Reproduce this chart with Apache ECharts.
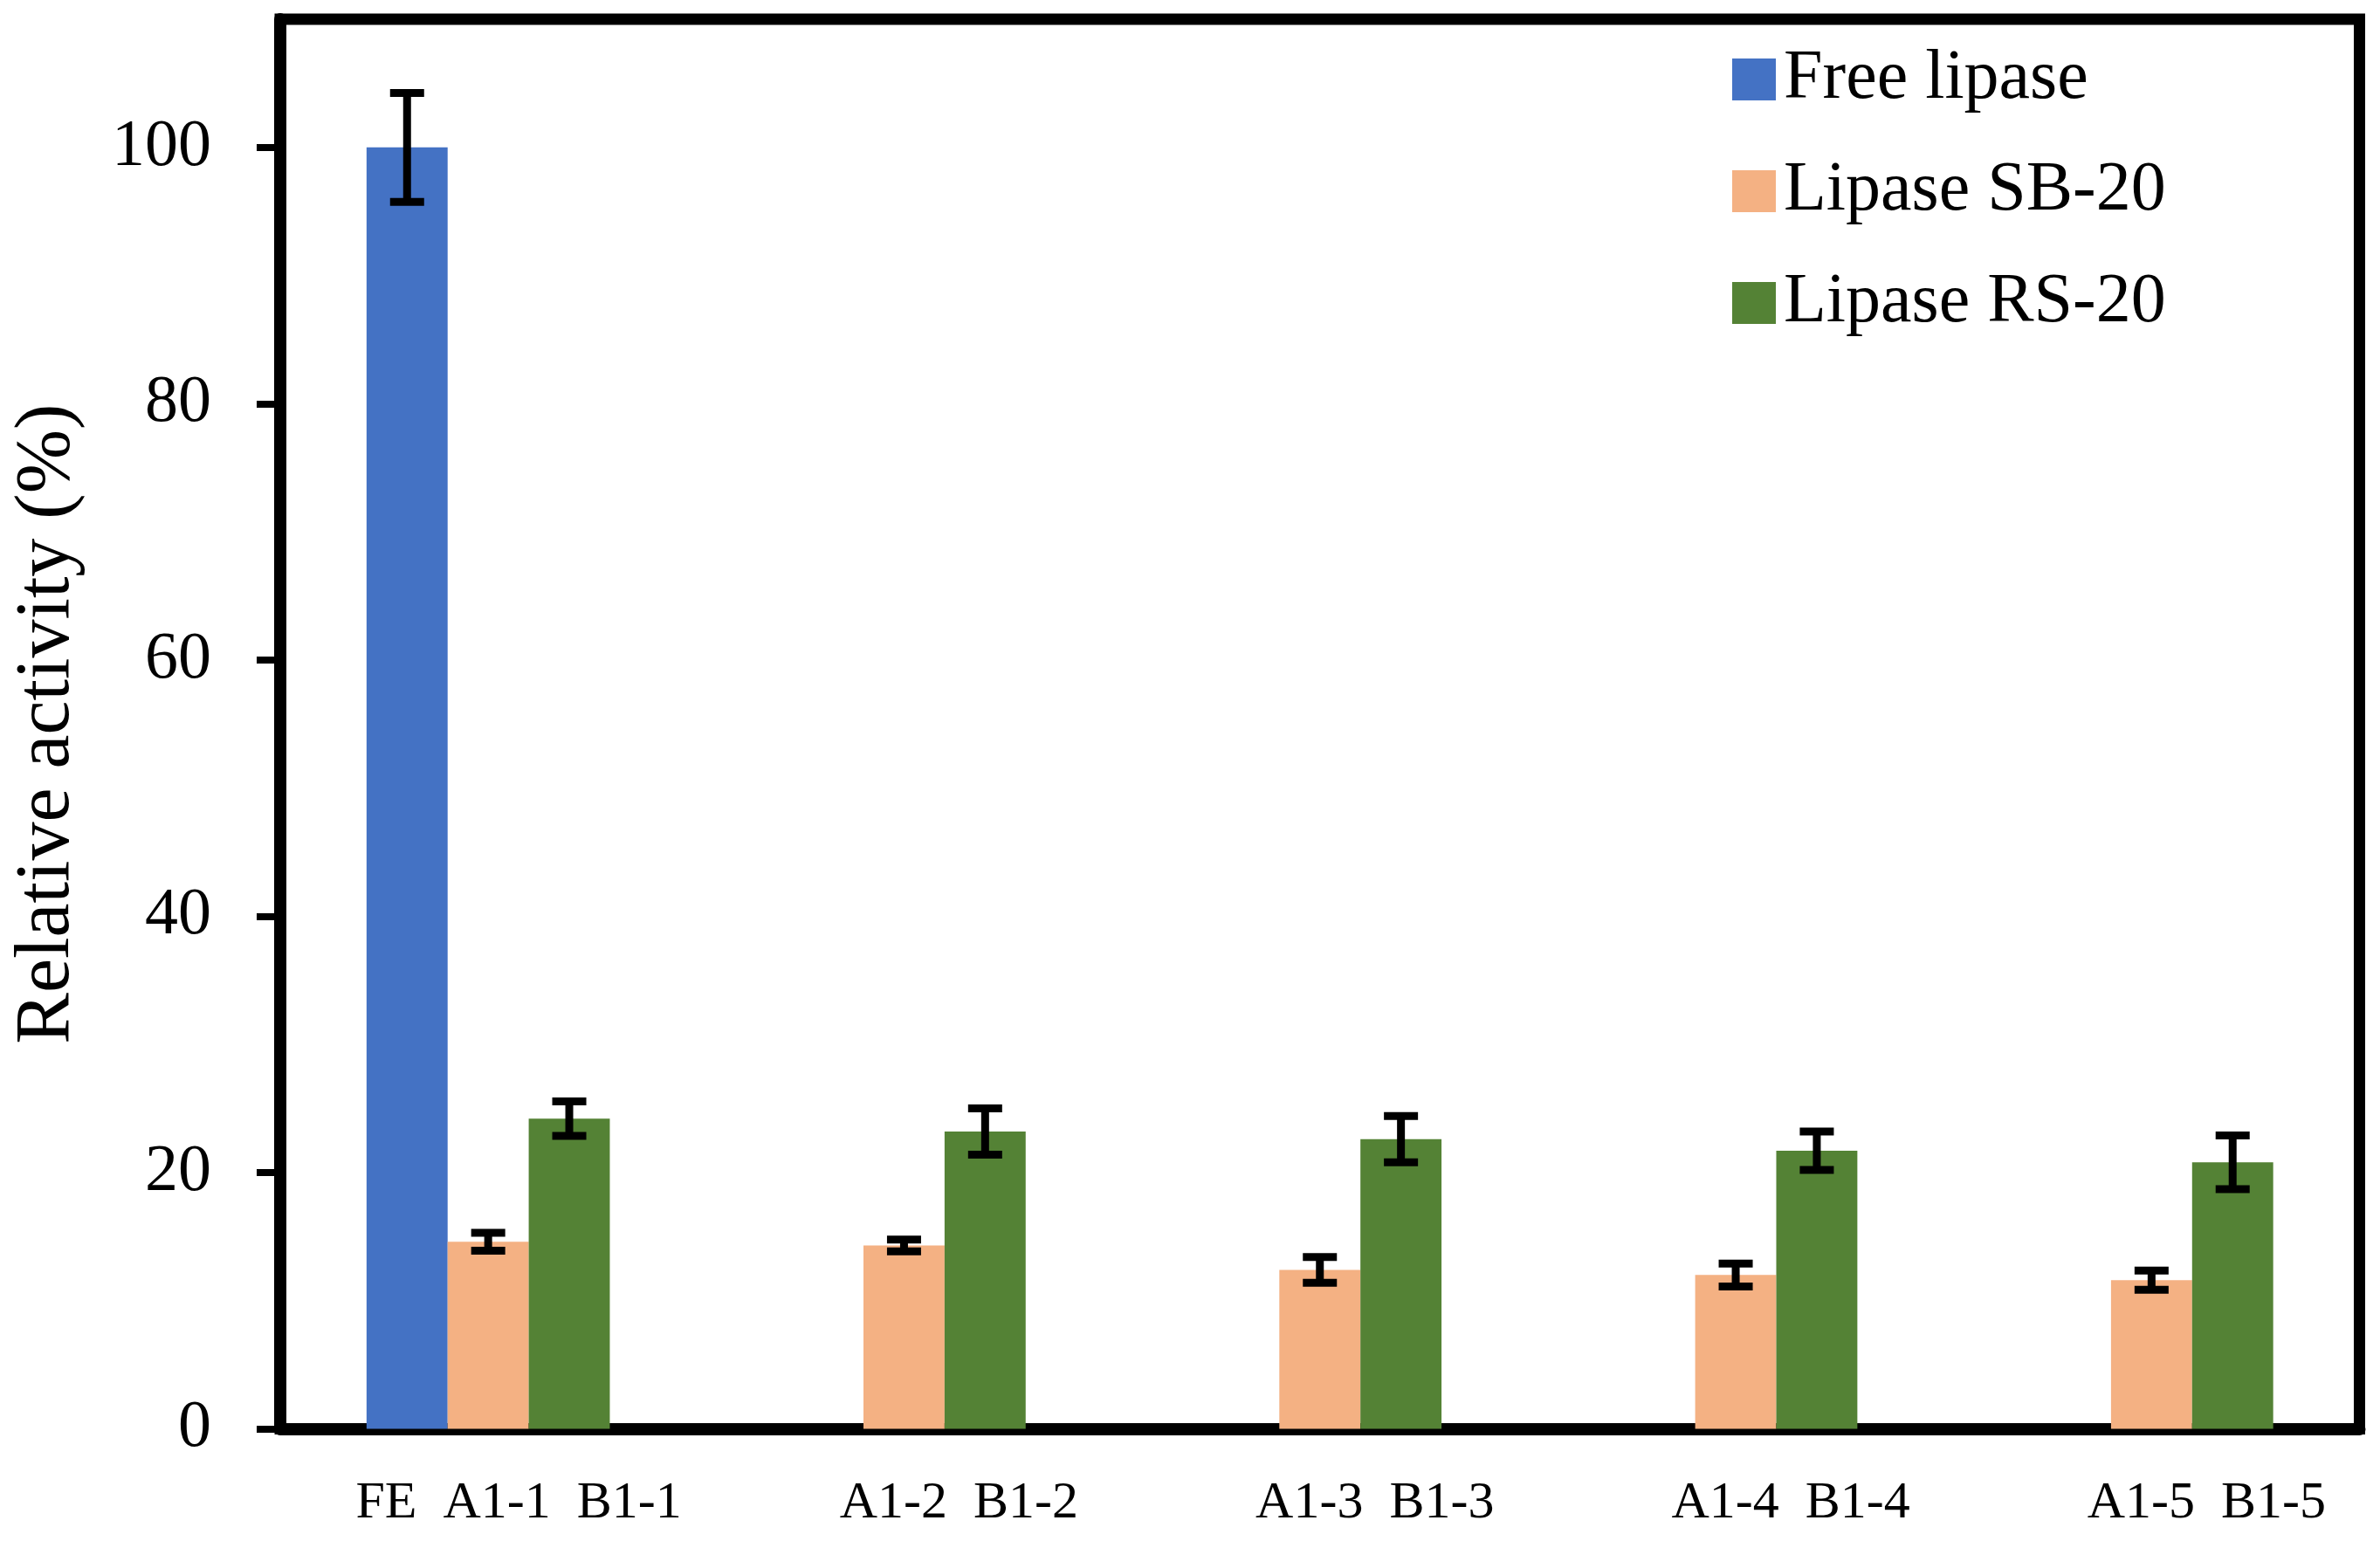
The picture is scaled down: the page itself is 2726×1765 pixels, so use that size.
<!DOCTYPE html>
<html>
<head>
<meta charset="utf-8">
<script src="https://cdn.jsdelivr.net/npm/echarts@6/dist/echarts.min.js"></script>
<style>
html,body{margin:0;padding:0;background:#fff;}
#chart{width:2726px;height:1765px;}
</style>
</head>
<body>
<div id="chart"></div>
<script>
var categories = ['FE  A1-1  B1-1', 'A1-2  B1-2', 'A1-3  B1-3', 'A1-4  B1-4', 'A1-5  B1-5'];
var seriesNames = ['Free lipase', 'Lipase SB-20', 'Lipase RS-20'];
var freeVals = [100, null, null, null, null];
var freeErr  = [4.25, null, null, null, null];
var sbVals = [14.6, 14.3, 12.4, 12.0, 11.6];
var sbErr  = [0.7, 0.46, 1.0, 0.9, 0.75];
var rsVals = [24.2, 23.2, 22.6, 21.7, 20.8];
var rsErr  = [1.35, 1.8, 1.8, 1.5, 2.1];
var yTicks = [0, 20, 40, 60, 80, 100];

var colors = ['#4472C4', '#F4B183', '#548235'];
var BAR_FRAC = 0.195;
var FONT = '"Liberation Serif", "Times New Roman", serif';

function errData(vals, errs) {
  var out = [];
  for (var i = 0; i < vals.length; i++) {
    if (vals[i] == null) continue;
    out.push([i, vals[i] - errs[i], vals[i] + errs[i]]);
  }
  return out;
}

function errSeries(vals, errs, offset) {
  return {
    type: 'custom',
    z: 10,
    silent: true,
    encode: {x: 0, y: [1, 2]},
    data: errData(vals, errs),
    renderItem: function (params, api) {
      var ci = api.value(0);
      var lo = api.value(1), hi = api.value(2);
      var band = api.size([1, 0])[0];
      var bw = band * BAR_FRAC;
      var x = api.coord([ci, 0])[0] + offset * bw;
      var yLo = api.coord([ci, lo])[1];
      var yHi = api.coord([ci, hi])[1];
      var cw = 19.5;
      var st = {stroke: '#000', lineWidth: 9, lineCap: 'butt'};
      return {
        type: 'group',
        children: [
          {type: 'line', shape: {x1: x, y1: yHi, x2: x, y2: yLo}, style: st},
          {type: 'line', shape: {x1: x - cw, y1: yHi, x2: x + cw, y2: yHi}, style: st},
          {type: 'line', shape: {x1: x - cw, y1: yLo, x2: x + cw, y2: yLo}, style: st}
        ]
      };
    }
  };
}

var chart = echarts.init(document.getElementById('chart'));
var option = {
  backgroundColor: '#fff',
  animation: false,
  color: colors,
  grid: {
    left: 321, right: 23.5, top: 22, bottom: 128.5,
    show: true, borderColor: '#000', borderWidth: 13, backgroundColor: 'transparent'
  },
  legend: {
    orient: 'vertical',
    left: 1979, top: 46,
    itemWidth: 50, itemHeight: 48,
    itemGap: 48,
    icon: 'rect',
    data: seriesNames,
    textStyle: {fontFamily: FONT, fontSize: 80, lineHeight: 80, color: '#000', padding: [0, 0, 0, 4]}
  },
  xAxis: {
    type: 'category',
    data: categories,
    axisLine: {show: true, lineStyle: {color: '#000', width: 14}},
    axisTick: {show: false},
    splitLine: {show: false},
    axisLabel: {
      margin: 56,
      interval: 0,
      formatter: function (v, i) { return i === 0 ? '{a|' + v + '}' : '{b|' + v + '}'; },
      rich: {
        a: {fontFamily: FONT, fontSize: 60, color: '#000', padding: [0, 0, 0, 70]},
        b: {fontFamily: FONT, fontSize: 60, color: '#000', padding: [0, 0, 0, 126]}
      }
    }
  },
  yAxis: {
    type: 'value',
    min: 0, max: 110, interval: 20,
    name: 'Relative activity (%)',
    nameLocation: 'middle',
    nameGap: 222,
    nameTextStyle: {fontFamily: FONT, fontSize: 88, color: '#000'},
    axisLine: {show: true, lineStyle: {color: '#000', width: 14}},
    axisTick: {show: true, length: 27, lineStyle: {color: '#000', width: 8}},
    splitLine: {show: false},
    axisLabel: {
      margin: 79,
      fontFamily: FONT, fontSize: 76, color: '#000',
      showMaxLabel: false,
      formatter: function (v) { return yTicks.indexOf(v) >= 0 ? String(v) : ''; }
    }
  },
  series: [
    {name: seriesNames[0], type: 'bar', data: freeVals, barWidth: (BAR_FRAC * 100) + '%', barGap: '0%', itemStyle: {color: colors[0]}},
    {name: seriesNames[1], type: 'bar', data: sbVals, barWidth: (BAR_FRAC * 100) + '%', barGap: '0%', itemStyle: {color: colors[1]}},
    {name: seriesNames[2], type: 'bar', data: rsVals, barWidth: (BAR_FRAC * 100) + '%', barGap: '0%', itemStyle: {color: colors[2]}},
    errSeries(freeVals, freeErr, -1),
    errSeries(sbVals, sbErr, 0),
    errSeries(rsVals, rsErr, 1)
  ]
};
chart.setOption(option);
</script>
</body>
</html>
